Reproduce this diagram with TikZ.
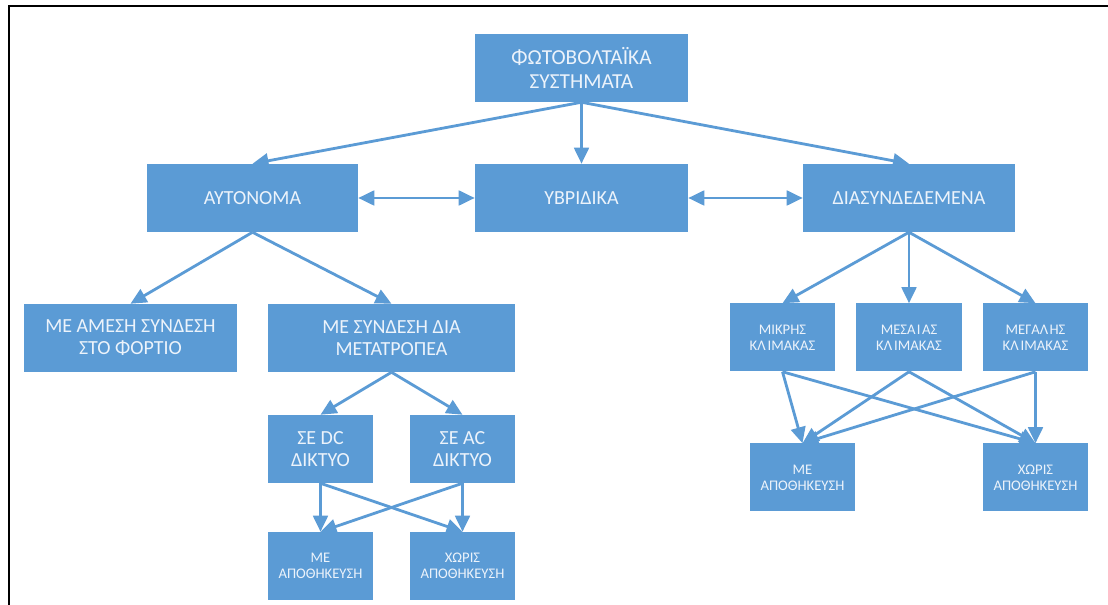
\documentclass[tikz,border=0pt]{standalone}
\usepackage{fontspec}
\setmainfont{Carlito}
\usetikzlibrary{arrows.meta}
\definecolor{boxblue}{RGB}{91,155,213}
\definecolor{txt}{RGB}{236,243,251}
\begin{document}
\begin{tikzpicture}[x=0.75pt,y=-0.75pt,
  box/.style={fill=boxblue, draw=none, text=txt, align=center, inner sep=0pt, minimum height=51pt},
  huge/.style={font=\fontsize{16}{17.5}\selectfont},
  big/.style={font=\fontsize{15}{16.5}\selectfont},
  small/.style={font=\fontsize{11}{12}\selectfont},
  arr/.style={draw=boxblue, line width=2.1pt, -{Triangle[length=12pt,width=11pt]}},
  darr/.style={draw=boxblue, line width=2.1pt, {Triangle[length=12pt,width=11pt]}-{Triangle[length=12pt,width=11pt]}}]
\useasboundingbox (0,0) rectangle (1108,605);
\fill[white] (0,0) rectangle (1108,605);
\draw[line width=1.8pt] (9,605) -- (9,6) -- (1108,6);
% nodes
\node[box,huge,minimum width=159.75pt] (top) at (581.5,68) {ΦΩΤΟΒΟΛΤΑΪΚΑ\\ΣΥΣΤΗΜΑΤΑ};
\node[box,big,minimum width=158.25pt] (aut) at (252.5,198) {ΑΥΤΟΝΟΜΑ};
\node[box,big,minimum width=159.75pt] (hyb) at (581.5,198) {ΥΒΡΙΔΙΚΑ};
\node[box,big,minimum width=159pt] (dia) at (909,198) {ΔΙΑΣΥΝΔΕΔΕΜΕΝΑ};
\node[box,big,minimum width=159.75pt] (ames) at (130.5,338) {ΜΕ ΑΜΕΣΗ ΣΥΝΔΕΣΗ\\ΣΤΟ ΦΟΡΤΙΟ};
\node[box,big,minimum width=185.25pt] (metr) at (391.5,338) {ΜΕ ΣΥΝΔΕΣΗ ΔΙΑ\\ΜΕΤΑΤΡΟΠΕΑ};
\node[box,big,minimum width=78.75pt] (dc) at (320.5,449) {ΣΕ DC\\ΔΙΚΤΥΟ};
\node[box,big,minimum width=78.75pt] (ac) at (462.5,449) {ΣΕ AC\\ΔΙΚΤΥΟ};
\node[box,small,minimum width=78.75pt] (meL) at (320.5,566) {ΜΕ\\ΑΠΟΘΗΚΕΥΣΗ};
\node[box,small,minimum width=78.75pt] (xoL) at (462.5,566) {ΧΩΡΙΣ\\ΑΠΟΘΗΚΕΥΣΗ};
\node[box,small,minimum width=78.75pt] (mik) at (782.5,337.5) {ΜΙΚΡΗΣ\\ΚΛ\kern1.5ptΙΜΑΚΑΣ};
\node[box,small,minimum width=79.5pt] (mes) at (909,337.5) {ΜΕΣΑ\kern1ptΙ\kern1ptΑΣ\\ΚΛ\kern1.5ptΙΜΑΚΑΣ};
\node[box,small,minimum width=78.75pt] (meg) at (1035.5,337.5) {ΜΕΓΑΛ\kern1ptΗΣ\\ΚΛ\kern1.5ptΙΜΑΚΑΣ};
\node[box,small,minimum width=78.75pt] (meR) at (802.5,477.5) {ΜΕ\\ΑΠΟΘΗΚΕΥΣΗ};
\node[box,small,minimum width=78.75pt] (xoR) at (1035.5,477.5) {ΧΩΡΙΣ\\ΑΠΟΘΗΚΕΥΣΗ};
% connectors
\draw[arr] (top.south) -- (aut.north);
\draw[arr] (top.south) -- (hyb.north);
\draw[arr] (top.south) -- (dia.north);
\draw[darr] (aut.east) -- (hyb.west);
\draw[darr] (hyb.east) -- (dia.west);
\draw[arr] (aut.south) -- (ames.north);
\draw[arr] (aut.south) -- (metr.north);
\draw[arr] (metr.south) -- (dc.north);
\draw[arr] (metr.south) -- (ac.north);
\draw[arr] (dc.south) -- (meL.north);
\draw[arr] (dc.south) -- (xoL.north);
\draw[arr] (ac.south) -- (meL.north);
\draw[arr] (ac.south) -- (xoL.north);
\draw[arr] (dia.south) -- (mik.north);
\draw[arr] (dia.south) -- (mes.north);
\draw[arr] (dia.south) -- (meg.north);
\draw[arr] (mik.south) -- (meR.north);
\draw[arr] (mik.south) -- (xoR.north);
\draw[arr] (mes.south) -- (meR.north);
\draw[arr] (mes.south) -- (xoR.north);
\draw[arr] (meg.south) -- (meR.north);
\draw[arr] (meg.south) -- (xoR.north);
\end{tikzpicture}
\end{document}
